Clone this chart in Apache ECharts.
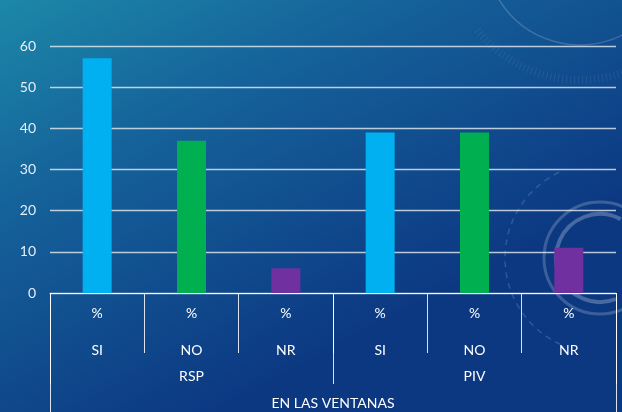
<!DOCTYPE html>
<html>
<head>
<meta charset="utf-8">
<script src="https://cdn.jsdelivr.net/npm/echarts@6/dist/echarts.min.js"></script>
<style>
  html, body { margin: 0; padding: 0; }
  #chart { width: 622px; height: 412px; }
</style>
</head>
<body>
<div id="chart"></div>
<script>
// data
const units = ['%', '%', '%', '%', '%', '%'];
const answers = ['SI', 'NO', 'NR', 'SI', 'NO', 'NR'];
const groups = ['RSP', 'PIV'];
const topGroup = ['EN LAS VENTANAS'];
const values = [57, 37, 6, 39, 39, 11];
const answerColors = { SI: '#00b0f0', NO: '#00b050', NR: '#7030a0' };

const myChart = echarts.init(document.getElementById('chart'));

const font = 'Lato, "Open Sans", sans-serif';
const lineColor = 'rgba(255,255,255,0.85)';

// decorative rings on the right, like the slide background
const deco = [
  { type: 'circle', shape: { cx: 600, cy: 258, r: 56 }, style: { fill: 'none', stroke: 'rgba(255,255,255,0.2)', lineWidth: 3 } },
  { type: 'arc', shape: { cx: 600, cy: 258, r: 44, startAngle: 1.2, endAngle: 5.2 }, style: { fill: 'none', stroke: 'rgba(255,255,255,0.25)', lineWidth: 4 } },
  { type: 'arc', shape: { cx: 600, cy: 258, r: 95, startAngle: 2.0, endAngle: 4.3 }, style: { fill: 'none', stroke: 'rgba(255,255,255,0.15)', lineWidth: 1.5, lineDash: [6, 5] } },
  { type: 'arc', shape: { cx: 580, cy: -50, r: 95, startAngle: 0.3, endAngle: 2.6 }, style: { fill: 'none', stroke: 'rgba(255,255,255,0.18)', lineWidth: 1.5 } },
  { type: 'arc', shape: { cx: 580, cy: -50, r: 130, startAngle: 0.5, endAngle: 2.5 }, style: { fill: 'none', stroke: 'rgba(255,255,255,0.08)', lineWidth: 8, lineDash: [1, 3] } }
];

function tick(len) {
  return { show: true, length: len, interval: 0, alignWithLabel: false, lineStyle: { color: lineColor, width: 1 } };
}

function label(margin) {
  return { color: '#fff', fontSize: 14, fontFamily: font, margin: margin, interval: 0 };
}

myChart.setOption({
  backgroundColor: {
    type: 'linear', x: 0, y: 0, x2: 0.35, y2: 1,
    colorStops: [
      { offset: 0, color: '#1c88a8' },
      { offset: 0.4, color: '#15629a' },
      { offset: 1, color: '#0c3882' }
    ]
  },
  graphic: deco.map(d => Object.assign({ silent: true, z: -10 }, d)),
  grid: {
    top: 46,
    left: 50,
    right: 6,
    bottom: 119,
    containLabel: false
  },
  yAxis: {
    type: 'value',
    min: 0,
    max: 60,
    interval: 10,
    axisLine: { show: false },
    axisTick: { show: false },
    axisLabel: { color: '#e6eef8', fontSize: 14, fontFamily: font, margin: 14 },
    splitLine: { lineStyle: { color: 'rgba(230,236,240,0.8)', width: 1.3 } }
  },
  xAxis: [
    {
      type: 'category',
      position: 'bottom',
      offset: 0,
      data: units,
      axisLine: { show: true, lineStyle: { color: lineColor, width: 1 } },
      axisTick: tick(60),
      axisLabel: label(13)
    },
    {
      type: 'category',
      position: 'bottom',
      offset: 0,
      data: answers,
      axisLine: { show: false },
      axisTick: { show: false },
      axisLabel: label(50)
    },
    {
      type: 'category',
      position: 'bottom',
      offset: 0,
      data: groups,
      axisLine: { show: false },
      axisTick: tick(91),
      axisLabel: label(76)
    },
    {
      type: 'category',
      position: 'bottom',
      offset: 0,
      data: topGroup,
      axisLine: { show: false },
      axisTick: tick(125),
      axisLabel: label(103)
    }
  ],
  series: [
    {
      type: 'bar',
      xAxisIndex: 0,
      barWidth: 29,
      data: values.map((v, i) => ({ value: v, itemStyle: { color: answerColors[answers[i]] } })),
      animation: false
    }
  ]
});
</script>
</body>
</html>
